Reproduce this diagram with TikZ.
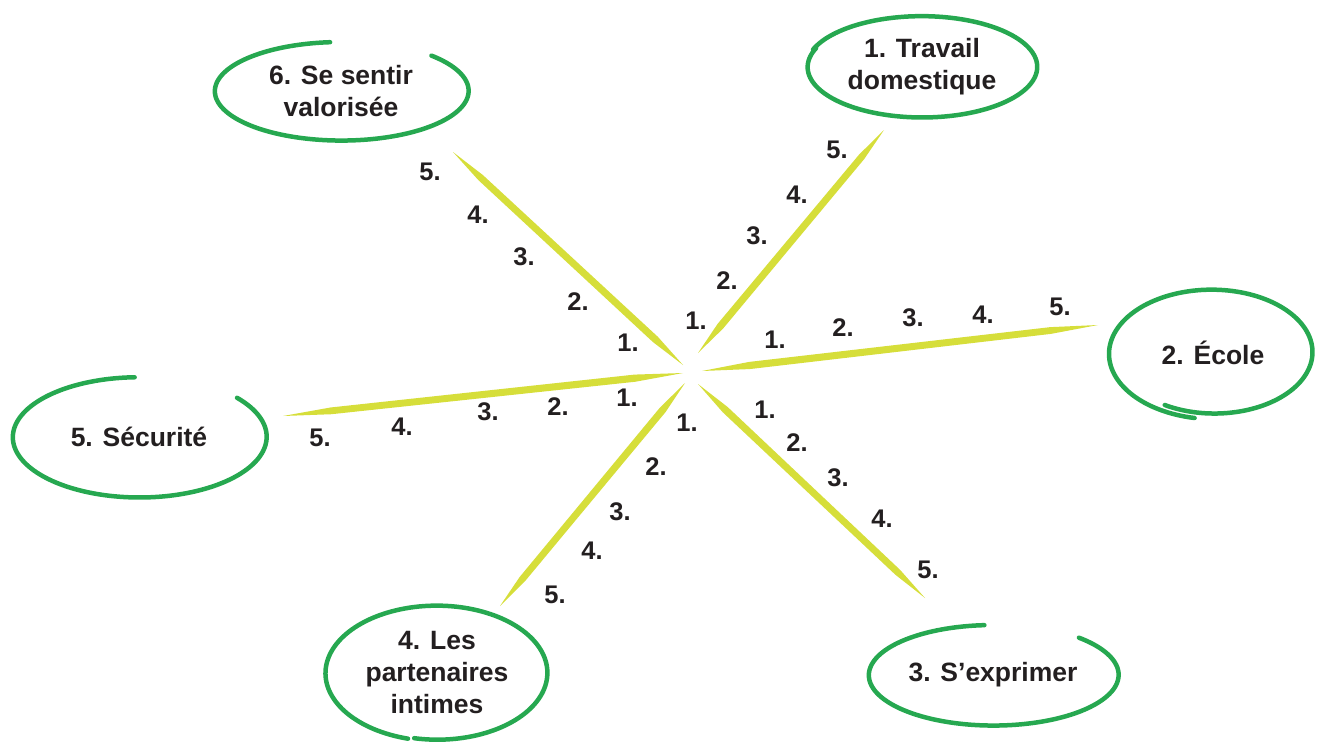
\documentclass[tikz,border=0pt]{standalone}
\usepackage{fontspec}
\setmainfont{Liberation Sans}
\usetikzlibrary{calc}

\definecolor{ringgreen}{RGB}{38,168,80}
\definecolor{spokeyellow}{RGB}{214,222,58}
\definecolor{inkgrey}{RGB}{35,31,32}

% hand drawn ring round a node: name, rx, ry, start angle, end angle, shrink
\newcommand{\ring}[6]{%
  \draw[ring, shift={(#1.center)}]
    plot[domain=#4:#5, samples=150]
    ({#2*(1-#6*(\x-#4)/(#5-#4))*cos(\x)}, {#3*(1-#6*(\x-#4)/(#5-#4))*sin(\x)});
}

\begin{document}
\begin{tikzpicture}[x=1pt, y=-1pt,
  ring/.style={draw=ringgreen, line width=4.5pt, line cap=round, line join=round},
  spoke/.style={fill=spokeyellow},
  theme/.style={font=\fontsize{26.5}{32}\selectfont\bfseries, text=inkgrey, align=center},
  num/.style={font=\fontsize{25.5}{30}\selectfont\bfseries, text=inkgrey}]

  % Fix the frame
  \useasboundingbox (0,0) rectangle (1317,742);

  % Define the inner and outer ends of the spokes
  \coordinate (I1) at (698,353);  \coordinate (O1) at (884,130);
  \coordinate (I2) at (702,371);  \coordinate (O2) at (1098,325);
  \coordinate (I3) at (698,384);  \coordinate (O3) at (925,598);
  \coordinate (I4) at (685,383);  \coordinate (O4) at (500,606);
  \coordinate (I5) at (683,373);  \coordinate (O5) at (283,416);
  \coordinate (I6) at (683,365);  \coordinate (O6) at (453,152);

  % Draw the tapered spokes
  \foreach \i in {1,...,6} {
    \path (I\i) -- (O\i) coordinate[pos=0.12] (p\i) coordinate[pos=0.88] (q\i);
    \fill[spoke] (I\i) -- ($(p\i)!3.6pt!90:(O\i)$) -- ($(q\i)!3.4pt!90:(O\i)$)
      -- (O\i) -- ($(q\i)!3.4pt!-90:(O\i)$) -- ($(p\i)!3.6pt!-90:(O\i)$) -- cycle;
  }

  % Number the steps along each spoke
  \foreach \s/\pts in {
      1/{(696,321),(727,281),(757,236),(797,195),(837,150)},
      2/{(775,340),(843,328),(913,318),(983,315),(1060,307)},
      3/{(765,410),(797,443),(838,478),(882,519),(928,570)},
      4/{(687,423),(656,467),(620,512),(592,551),(555,595)},
      5/{(627,398),(558,407),(488,412),(402,427),(320,438)},
      6/{(628,343),(578,302),(524,257),(478,215),(430,172)}} {
    \foreach \p [count=\n] in \pts
      \node[num] (n\s-\n) at \p {\n.};
  }

  % Themes
  \node[theme] (t1) at (922,67)  {1. Travail\\domestique};
  \node[theme] (t2) at (1213,353) {2. École};
  \node[theme] (t3) at (993,675) {3. S’exprimer};
  \node[theme] (t4) at (437,673) {4. Les\\partenaires\\intimes};
  \node[theme] (t5) at (139,437) {5. Sécurité};
  \node[theme] (t6) at (341,91)  {6. Se sentir\\valorisée};

  % Rings round the themes
  \ring{t1}{116}{51}{200}{562}{0.015}
  \ring{t2}{106}{66}{100}{480}{0.09}
  \ring{t3}{126}{51}{-47}{266}{0.02}
  \ring{t4}{112}{68}{105}{462}{0.02}
  \ring{t5}{128}{61}{-40}{268}{0.02}
  \ring{t6}{128}{50}{-45}{265}{0.02}

\end{tikzpicture}
\end{document}
